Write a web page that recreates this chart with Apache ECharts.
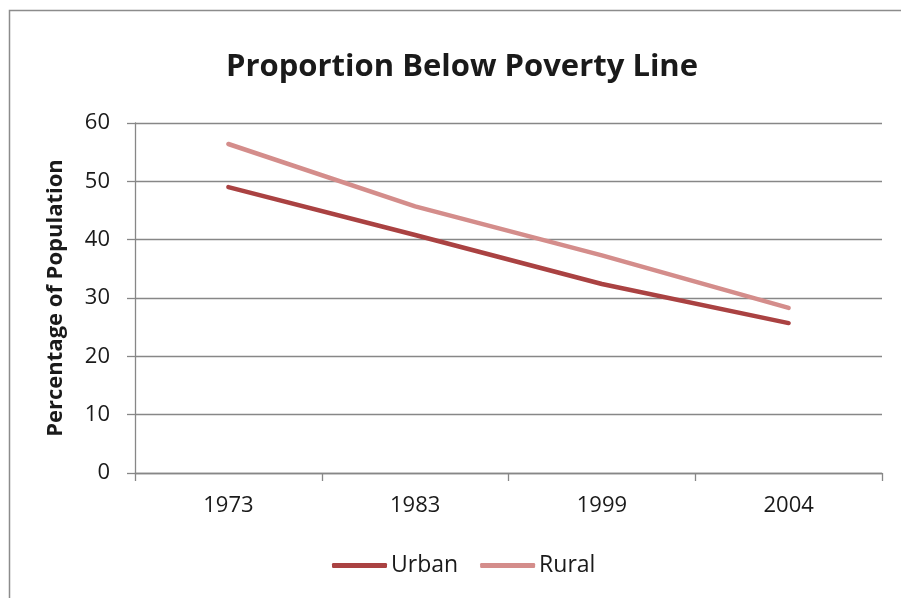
<!DOCTYPE html>
<html><head><meta charset="utf-8">
<script src="https://cdn.jsdelivr.net/npm/echarts@6/dist/echarts.min.js"></script>
<style>html,body{margin:0;padding:0;background:#fff}#c{width:901px;height:598px}</style>
</head><body><div id="c"></div>
<script>
const categories = ['1973', '1983', '1999', '2004'];
const urban = [49.0, 40.8, 32.4, 25.7];
const rural = [56.4, 45.7, 37.3, 28.3];
const yTicks = [0, 10, 20, 30, 40, 50, 60];

const FONT = '"Open Sans", Lato, sans-serif';
const chart = echarts.init(document.getElementById('c'));
chart.setOption({
  animation: false,
  backgroundColor: '#fff',
  graphic: [{
    type: 'rect', silent: true, z: -1,
    shape: { x: 9.5, y: 10.5, width: 1000, height: 1000 },
    style: { fill: 'none', stroke: '#8c8c8c', lineWidth: 1.5 }
  }],
  title: {
    text: 'Proportion Below Poverty Line',
    left: 221, top: 47,
    textStyle: { fontFamily: FONT, fontWeight: 'bold', fontSize: 31, color: '#1a1a1a' }
  },
  grid: { left: 135, right: 19, top: 123, bottom: 125, containLabel: false },
  legend: {
    data: ['Urban', 'Rural'],
    bottom: 16, left: 327,
    itemWidth: 55, itemHeight: 5, itemGap: 22,
    icon: 'roundRect',
    textStyle: { fontFamily: FONT, fontSize: 23, color: '#1a1a1a', padding: [0, 0, 0, -1] }
  },
  xAxis: {
    type: 'category', data: categories, boundaryGap: true,
    axisLine: { lineStyle: { color: '#878787', width: 1.3 } },
    axisTick: { show: true, length: 8, alignWithLabel: false, lineStyle: { color: '#878787', width: 1.3 } },
    axisLabel: { fontFamily: FONT, fontSize: 22, color: '#1a1a1a', margin: 22 },
    splitLine: { show: false }
  },
  yAxis: {
    type: 'value', min: yTicks[0], max: yTicks[yTicks.length - 1], interval: 10,
    name: 'Percentage of Population', nameLocation: 'middle', nameGap: 68, nameRotate: 90,
    nameTextStyle: { fontFamily: FONT, fontWeight: 'bold', fontSize: 22, color: '#1a1a1a' },
    axisLine: { show: true, lineStyle: { color: '#878787', width: 1.3 } },
    axisTick: { show: true, length: 8, lineStyle: { color: '#878787', width: 1.3 } },
    axisLabel: { fontFamily: FONT, fontSize: 22, color: '#1a1a1a', margin: 25 },
    splitLine: { show: true, lineStyle: { color: '#878787', width: 1.3 } }
  },
  series: [
    { name: 'Urban', type: 'line', data: urban, symbol: 'none',
      lineStyle: { color: '#AA4242', width: 4.5, cap: 'round' }, itemStyle: { color: '#AA4242' } },
    { name: 'Rural', type: 'line', data: rural, symbol: 'none',
      lineStyle: { color: '#D48D8B', width: 4.5, cap: 'round' }, itemStyle: { color: '#D48D8B' } }
  ]
});
</script></body></html>
